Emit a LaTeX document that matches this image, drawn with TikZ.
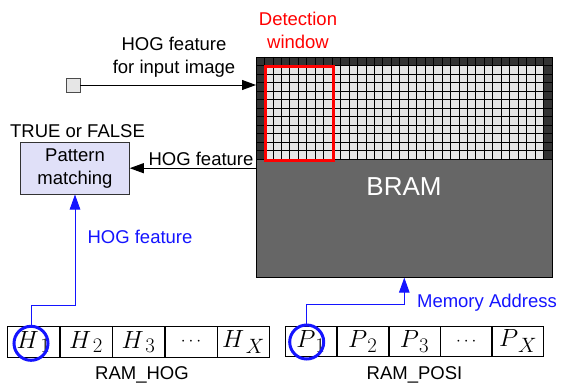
\documentclass[tikz,border=0pt]{standalone}
\usepackage{fontspec}
\setmainfont{Liberation Sans}
\usetikzlibrary{arrows.meta}
\definecolor{bramgray}{HTML}{666666}
\definecolor{celldark}{HTML}{333333}
\definecolor{celllight}{HTML}{E6E6E6}
\definecolor{pmfill}{RGB}{224,224,248}
\definecolor{linkblue}{RGB}{20,20,255}
% entry of a RAM row: letter with a lowered, slightly detached index
\newcommand{\ramentry}[2]{$#1_{\,#2}$}
\newcommand{\ramdots}{{\fontsize{17.28}{20}\selectfont$\cdots$}}

\begin{document}
\begin{tikzpicture}[x=1pt,y=-1pt,
  lbl/.style={font=\fontsize{18.5}{23}\selectfont, inner sep=0pt, align=center},
  arr/.style={draw=black, line width=0.9pt, -{Triangle[length=14pt,width=10pt]}},
  barr/.style={draw=linkblue, line width=1pt, -{Triangle[length=15pt,width=10.5pt]}},
  gridline/.style={draw=black, line width=0.8pt},
  cell/.style={draw=black, line width=0.8pt, minimum height=30.6pt, inner sep=0pt,
    anchor=west, font=\fontsize{24.88}{28}\selectfont},
  hcell/.style={cell, minimum width=51.7pt},
  pcell/.style={cell, minimum width=51pt},
  ring/.style={circle, draw=linkblue, line width=3pt, minimum size=34pt, inner sep=0pt},
]
\useasboundingbox (0,0) rectangle (561,385);

% BRAM block with its buffer grid on top
\node[draw=black, fill=bramgray, line width=0.9pt, minimum width=296pt,
  minimum height=219.7pt, inner sep=0pt, anchor=north west] (bram) at (256,57) {};
\fill[celldark] (256,57) rectangle (552,159);
\fill[celllight] (264.457,65.5) rectangle (543.543,159);
\foreach \i in {1,...,34}
  \draw[gridline] ({256+\i*296/35},57) -- ({256+\i*296/35},159);
\foreach \j in {1,...,12}
  \draw[gridline] (256,{57+\j*8.5}) -- (552,{57+\j*8.5});
\draw[line width=0.9pt] (bram.north west) rectangle (bram.south east);
\node[font=\fontsize{26}{30}\selectfont, text=white] (bramlbl) at (404,187) {BRAM};

% detection window
\node[draw=red, line width=3pt, minimum width=67.66pt, minimum height=93.5pt,
  inner sep=0pt, anchor=north west] (win) at (264.457,65.5) {};
\node[lbl, text=red] (winlbl) at (298,30) {Detection\\window};

% input
\node[draw=black!70, fill=celllight, minimum size=14pt, inner sep=0pt, line width=0.8pt] (inp) at (73,85) {};
\draw[arr] (inp.east) -- (inp.east -| bram.west);
\node[lbl] (inlbl) at (174,57) {HOG feature\\for input image};

% pattern matching
\node[lbl, draw=black!80, fill=pmfill, line width=0.9pt, minimum width=108.6pt,
  minimum height=51.7pt] (pm) at (75,168.2) {Pattern\\matching};
\node[lbl] (tf) at (77.5,131.5) {TRUE or FALSE};
\coordinate (hogout) at (256,168.2);
\draw[arr] (hogout) -- (pm.east);
\node[lbl] (hoglbl) at (201,158.5) {HOG feature};

% RAM_HOG
\node[hcell] (h1) at (7.3,342) {\ramentry{H}{1}};
\node[hcell] (h2) at (h1.east) {\ramentry{H}{2}};
\node[hcell] (h3) at (h2.east) {\ramentry{H}{3}};
\node[hcell] (h4) at (h3.east) {\ramdots};
\node[hcell] (h5) at (h4.east) {\ramentry{H}{X}};
\node[lbl] (ramhog) at (142,375) {RAM\_HOG};

% RAM_POSI
\node[pcell] (p1) at (285,341.2) {\ramentry{P}{1}};
\node[pcell] (p2) at (p1.east) {\ramentry{P}{2}};
\node[pcell] (p3) at (p2.east) {\ramentry{P}{3}};
\node[pcell] (p4) at (p3.east) {\ramdots};
\node[pcell] (p5) at (p4.east) {\ramentry{P}{X}};
\node[lbl] (ramposi) at (414.5,375) {RAM\_POSI};

% selected entries and their links
\node[ring] (ch) at (31,343.3) {};
\node[ring] (cp) at (306.7,342) {};
\coordinate (bh) at (75,305);
\draw[barr] (ch.north) |- (bh) -- (pm.south);
\node[lbl, text=linkblue] (bhlbl) at (140,236.7) {HOG feature};
\coordinate (bp) at (404.3,304.3);
\draw[barr] (cp.north) |- (bp) -- (bp |- bram.south);
\node[lbl, text=linkblue] (bplbl) at (487,303) {Memory Address};
\end{tikzpicture}
\end{document}
